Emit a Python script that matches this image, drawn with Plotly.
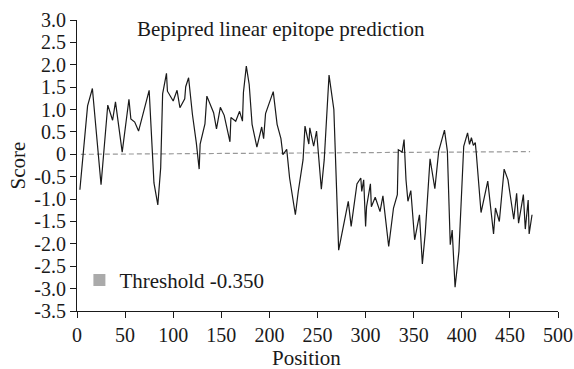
import plotly.graph_objects as go

# Bepipred score profile (vertices)
position = [3, 11, 16, 25, 32, 37, 40, 47, 54, 56, 60, 64, 75, 80, 84, 87, 89, 93, 94,
            100, 104, 107, 112, 113, 116, 120, 124, 127, 128, 133, 135, 142, 145, 149,
            153, 159, 160, 165, 169, 172, 173, 176, 179, 182, 187, 192, 194, 196, 204,
            208, 212, 214, 218, 221, 227, 230, 235, 237, 241, 242, 246, 249, 254, 257,
            262, 267, 272, 282, 285, 291, 295, 296, 298, 300, 301, 305, 306, 310, 315,
            318, 324, 329, 333, 334, 338, 340, 342, 344, 347, 351, 356, 359, 362, 367,
            372, 376, 382, 385, 388, 390, 393, 397, 402, 406, 408, 410, 412, 414, 415,
            420, 427, 433, 435, 439, 444, 448, 454, 457, 459, 464, 466, 469, 470, 473]
score = [-0.79, 1.08, 1.47, -0.68, 1.10, 0.76, 1.17, 0.05, 1.23, 0.79, 0.72, 0.52, 1.43,
         -0.64, -1.13, -0.30, 1.35, 1.81, 1.41, 1.19, 1.43, 1.04, 1.24, 1.51, 1.71, 0.89,
         0.26, -0.33, 0.23, 0.68, 1.30, 0.93, 0.57, 1.05, 0.87, 0.28, 0.82, 0.74, 0.96,
         0.74, 1.38, 1.97, 1.56, 0.67, 0.16, 0.61, 0.35, 0.91, 1.40, 0.67, 0.35, -0.01,
         0.11, -0.53, -1.35, -0.83, -0.12, 0.63, 0.23, 0.59, 0.18, 0.52, -0.78, -0.12,
         1.77, 1.00, -2.14, -1.05, -1.61, -0.66, -0.53, -0.83, -0.57, -1.61, -1.17, -0.66,
         -1.17, -0.96, -1.28, -0.93, -2.06, -1.20, -0.90, 0.10, 0.05, 0.33, -0.57, -1.05,
         -0.81, -1.91, -1.35, -2.45, -1.76, -0.10, -0.77, 0.07, 0.54, 0.07, -2.02, -1.69,
         -2.97, -2.17, 0.18, 0.48, 0.22, 0.37, 0.20, 0.26, 0.04, -1.30, -0.60, -1.78,
         -1.20, -1.50, -0.33, -0.57, -1.45, -0.87, -1.54, -0.90, -1.67, -1.02, -1.78, -1.35]

threshold_x = [4, 471]
threshold_y = [0.0, 0.06]

x_ticks = [0, 50, 100, 150, 200, 250, 300, 350, 400, 450, 500]
y_ticks = [3.0, 2.5, 2.0, 1.5, 1.0, 0.5, 0, -0.5, -1.0, -1.5, -2.0, -2.5, -3.0, -3.5]
y_tick_labels = ["3.0", "2.5", "2.0", "1.5", "1.0", "0.5", "0", "-0.5", "-1.0",
                 "-1.5", "-2.0", "-2.5", "-3.0", "-3.5"]

title_text = "Bepipred linear epitope prediction"
legend_label = "Threshold -0.350"
x_title = "Position"
y_title = "Score"

FONT = "Liberation Serif, Times New Roman, serif"

fig = go.Figure()
fig.add_trace(go.Scatter(x=threshold_x, y=threshold_y, mode="lines",
                         line=dict(color="#999999", width=1.2, dash="5px,3px"),
                         showlegend=False, hoverinfo="skip"))
fig.add_trace(go.Scatter(x=position, y=score, mode="lines",
                         line=dict(color="#1a1a1a", width=1.2),
                         showlegend=False))
fig.add_trace(go.Scatter(x=[None], y=[None], mode="markers", name=legend_label,
                         marker=dict(symbol="square", size=12, color="#aaaaaa")))

fig.update_layout(
    width=574, height=369,
    margin=dict(l=77, r=16, t=20, b=58, autoexpand=False),
    paper_bgcolor="white", plot_bgcolor="white",
    font=dict(family=FONT, size=20, color="#1a1a1a"),
    showlegend=True,
    legend=dict(x=0.005, y=0.105, xanchor="left", yanchor="middle",
                bgcolor="rgba(0,0,0,0)", font=dict(size=21, family=FONT)),
    annotations=[
        dict(text=title_text, x=0.424, y=0.969, xref="paper", yref="paper",
             xanchor="center", yanchor="middle", showarrow=False,
             font=dict(size=21, family=FONT)),
        dict(text=x_title, x=0.478, y=-0.163, xref="paper", yref="paper",
             xanchor="center", yanchor="middle", showarrow=False,
             font=dict(size=21, family=FONT)),
    ],
)
fig.update_xaxes(range=[0, 500], tickvals=x_ticks, showline=True, linecolor="#1a1a1a",
                 linewidth=1, ticks="outside", ticklen=6, tickcolor="#1a1a1a",
                 showgrid=False, zeroline=False, automargin=False,
                 tickfont=dict(size=20))
fig.update_yaxes(range=[-3.5, 3.0], tickvals=y_ticks, ticktext=y_tick_labels,
                 showline=True, linecolor="#1a1a1a", linewidth=1, ticks="outside",
                 ticklen=6, tickcolor="#1a1a1a", showgrid=False, zeroline=False,
                 automargin=False, tickfont=dict(size=20),
                 title=dict(text=y_title, font=dict(size=21), standoff=2))

fig.write_html("out.html")
